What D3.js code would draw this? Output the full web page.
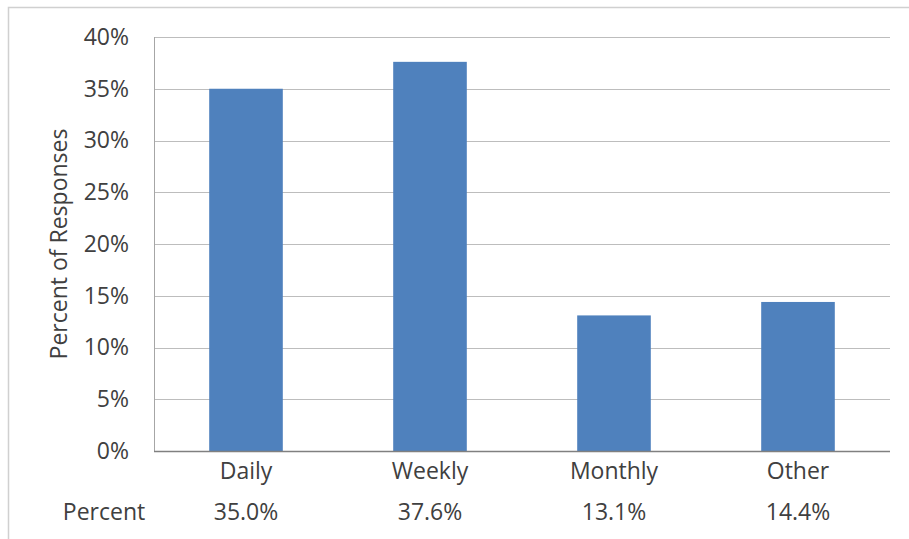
<!DOCTYPE html>
<html>
<head>
<meta charset="utf-8">
<script src="https://cdn.jsdelivr.net/npm/d3@7"></script>
<style>
  body { margin: 0; background: #fff; }
  svg text { font-family: "Open Sans", "Noto Sans", sans-serif; fill: #404040; }
</style>
</head>
<body>
<div id="chart"></div>
<script>
// data
var categories = ["Daily", "Weekly", "Monthly", "Other"];
var percents = [35.0, 37.6, 13.1, 14.4];
var yTicks = [0, 5, 10, 15, 20, 25, 30, 35, 40];
var rowLabel = "Percent";
var yTitle = "Percent of Responses";

var width = 909, height = 539;
var margin = {top: 37, right: 19, bottom: 88, left: 154};
var innerW = width - margin.left - margin.right,
    innerH = height - margin.top - margin.bottom;

var svg = d3.select("#chart").append("svg")
    .attr("width", width)
    .attr("height", height);

// outer frame
svg.append("rect")
    .attr("x", 8.5).attr("y", 7.5)
    .attr("width", width + 10).attr("height", height + 10)
    .attr("fill", "none")
    .attr("stroke", "#d0d0d0")
    .attr("stroke-width", 1.5);

var g = svg.append("g").attr("transform", "translate(" + margin.left + "," + margin.top + ")");

var x = d3.scaleBand()
    .domain(categories)
    .range([0, innerW])
    .paddingInner(0.6)
    .paddingOuter(0.3);

var y = d3.scaleLinear()
    .domain([0, 40])
    .range([innerH, 0]);

// gridlines
g.append("g")
    .selectAll("line")
    .data(yTicks.filter(function(d) { return d > 0; }))
    .enter().append("line")
    .attr("x1", 0).attr("x2", innerW)
    .attr("y1", function(d) { return Math.round(y(d)) + 0.5; })
    .attr("y2", function(d) { return Math.round(y(d)) + 0.5; })
    .attr("stroke", "#bdbdbd")
    .attr("stroke-width", 1);

// left axis line
g.append("line")
    .attr("x1", 0.5).attr("x2", 0.5)
    .attr("y1", 0).attr("y2", innerH)
    .attr("stroke", "#a6a6a6");

// y tick labels
var yAxis = d3.axisLeft(y)
    .tickValues(yTicks)
    .tickFormat(function(d) { return d + "%"; })
    .tickSize(0)
    .tickPadding(25);

g.append("g")
    .call(yAxis)
    .call(function(a) { a.select(".domain").remove(); })
    .selectAll("text")
    .style("font-size", "23px")
    .attr("fill", "#404040");

// bars
g.append("g")
    .selectAll("rect")
    .data(percents)
    .enter().append("rect")
    .attr("x", function(d, i) { return x(categories[i]); })
    .attr("y", function(d) { return y(d); })
    .attr("width", x.bandwidth())
    .attr("height", function(d) { return innerH - y(d); })
    .attr("fill", "#4f81bd");

// x axis baseline
g.append("line")
    .attr("x1", 0).attr("x2", innerW)
    .attr("y1", innerH + 0.5).attr("y2", innerH + 0.5)
    .attr("stroke", "#808080")
    .attr("stroke-width", 1.5);

// category labels
var xAxis = d3.axisBottom(x).tickSize(0);
g.append("g")
    .attr("transform", "translate(0," + innerH + ")")
    .call(xAxis)
    .call(function(a) { a.select(".domain").remove(); })
    .selectAll("text")
    .attr("y", 28)
    .attr("dy", 0)
    .style("font-size", "23px")
    .attr("fill", "#404040");

// data table row
var row = g.append("g").attr("transform", "translate(0," + (innerH + 69) + ")");
row.append("text")
    .attr("x", -50)
    .attr("text-anchor", "middle")
    .style("font-size", "23px")
    .text(rowLabel);
row.selectAll("text.val")
    .data(percents)
    .enter().append("text")
    .attr("class", "val")
    .attr("x", function(d, i) { return x(categories[i]) + x.bandwidth() / 2; })
    .attr("text-anchor", "middle")
    .style("font-size", "23px")
    .text(function(d) { return d.toFixed(1) + "%"; });

// y axis title
svg.append("text")
    .attr("transform", "translate(67," + (margin.top + innerH / 2 + 0) + ") rotate(-90)")
    .attr("text-anchor", "middle")
    .style("font-size", "23px")
    .text(yTitle);
</script>
</body>
</html>
